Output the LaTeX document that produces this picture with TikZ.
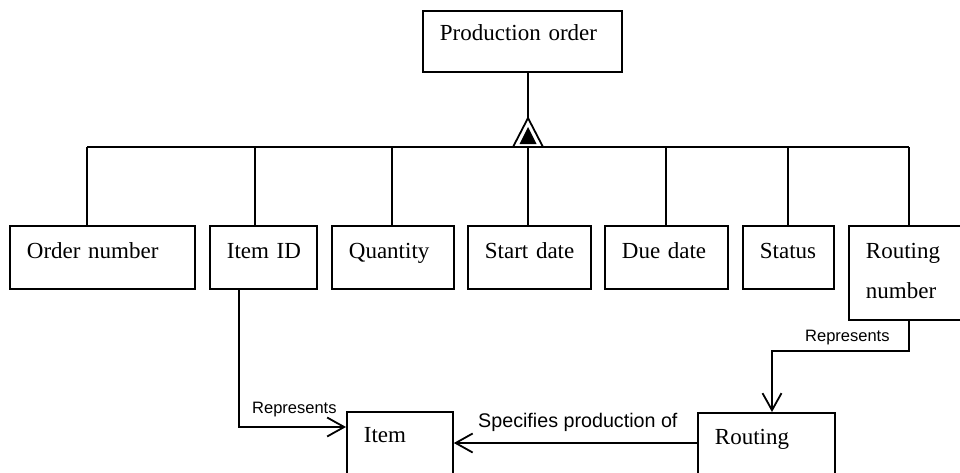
\documentclass[tikz,border=0pt]{standalone}
\usepackage{fontspec}
\setmainfont{Liberation Serif}
\newfontfamily\lblfam{Liberation Sans}
\usetikzlibrary{arrows.meta,calc}
\begin{document}
\begin{tikzpicture}[x=1pt,y=-1pt,
  box/.style={draw, line width=1.8pt, anchor=north west, inner xsep=17pt, inner ysep=0pt,
    align=left, font=\fontsize{23}{40}\selectfont, text height=32.5pt},
  conn/.style={line width=1.8pt},
  arr/.style={conn, -{Straight Barb[length=17pt,width=19pt,line width=1.8pt]}},
  lbl/.style={font=\lblfam\fontsize{16.5}{20}\selectfont, inner sep=0pt, anchor=base west},
  lblbig/.style={font=\lblfam\fontsize{19.7}{24}\selectfont, inner sep=0pt, anchor=base west}]
\useasboundingbox (0,0) rectangle (960,472);
\clip (0,0) rectangle (960,472);
% top box
\node[box, text width=165pt, text height=30pt, text depth=31pt] (po) at (422,10) {\mbox{Production order}};
% attribute boxes
\node[box, text width=151pt, text depth=30.5pt] (on) at (9,225) {\mbox{Order number}};
\node[box, text width=73pt, text depth=30.5pt] (iid) at (209,225) {\mbox{Item ID}};
\node[box, text width=88pt, text depth=30.5pt] (qty) at (331,225) {\mbox{Quantity}};
\node[box, text width=89pt, text depth=30.5pt] (sd) at (467,225) {\mbox{Start date}};
\node[box, text width=89pt, text depth=30.5pt] (dd) at (604,225) {\mbox{Due date}};
\node[box, text width=57pt, text depth=30.5pt] (st) at (742,225) {\mbox{Status}};
\node[box, text width=93pt, text depth=61.5pt] (rn) at (848,225) {Routing\\number};
% lower boxes
\node[box, text width=72pt, text height=31pt, text depth=60pt] (item) at (346,411) {Item};
\node[box, text width=103pt, text height=32pt, text depth=60pt] (rout) at (697,412) {Routing};
% bus
\coordinate (b1) at (87,147);
\coordinate (b2) at (255,147);
\coordinate (b3) at (392,147);
\coordinate (b4) at (528,147);
\coordinate (b5) at (666,147);
\coordinate (b6) at (788,147);
\coordinate (b7) at (909,147);
\draw[conn] (b1) -- (b7);
\foreach \b/\n in {b1/on,b2/iid,b3/qty,b4/sd,b5/dd,b6/st,b7/rn}
  \draw[conn] (\b) -- (\b |- \n.north);
% aggregation triangle
\coordinate (tb) at (528,147);
\draw[conn] (tb |- po.south) -- ($(tb)+(0,-29)$);
\draw[conn, fill=white, line join=miter] ($(tb)+(-15,0)$) -- ($(tb)+(0,-29)$) -- ($(tb)+(15,0)$) -- cycle;
\fill ($(tb)+(-8.5,-3)$) -- ($(tb)+(0,-20)$) -- ($(tb)+(8.5,-3)$) -- cycle;
% connectors
\coordinate (c1) at (239,427);
\draw[arr] (iid.south -| c1) -- (c1) -- (c1 -| item.west);
\coordinate (c2) at (909,351);
\coordinate (c3) at (772,351);
\draw[arr] (rn.south -| c2) -- (c2) -- (c3) -- (c3 |- rout.north);
\coordinate (c4) at (697,443);
\draw[arr] (c4) -- (c4 -| item.east);
% labels
\node[lbl] (rep1) at (252,413) {Represents};
\node[lbl] (rep2) at (805,341) {Represents};
\node[lblbig] (spec) at (478,427) {Specifies production of};
\end{tikzpicture}
\end{document}
